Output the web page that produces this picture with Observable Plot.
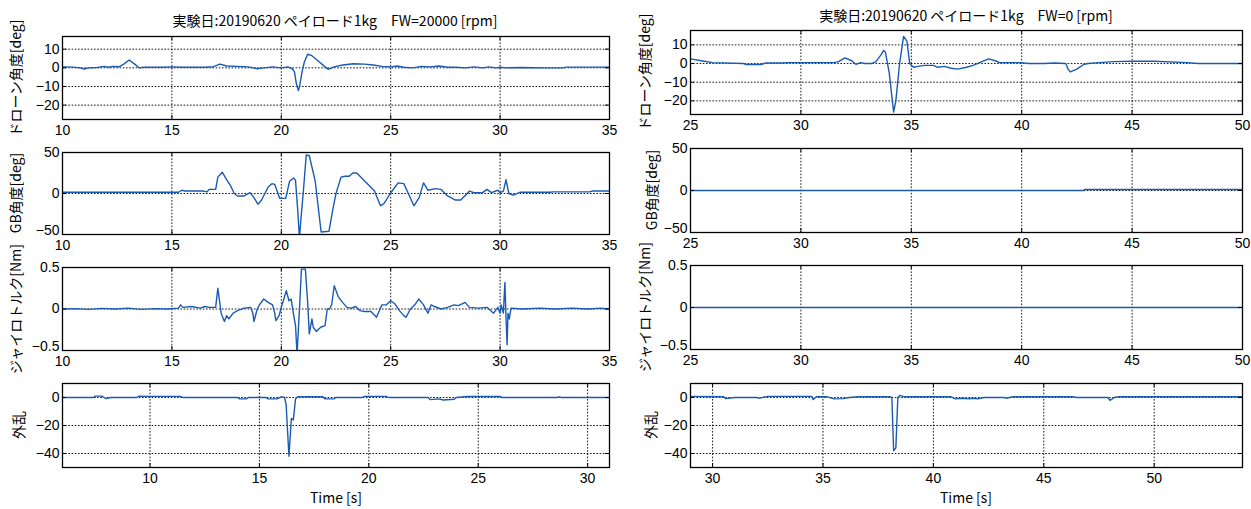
<!DOCTYPE html>
<html><head><meta charset="utf-8">
<script src="https://cdn.jsdelivr.net/npm/d3@7"></script>
<script src="https://cdn.jsdelivr.net/npm/@observablehq/plot@0.6"></script>
<style>
html,body{margin:0;padding:0;background:#fff;}
#root{position:relative;width:1251px;height:509px;overflow:hidden;background:#fff;font-family:"Noto Sans CJK JP",sans-serif;}
.pan{position:absolute;}
.txt{position:absolute;white-space:nowrap;color:#000;font-family:"Noto Sans CJK JP",sans-serif;}
.ylab{position:absolute;white-space:nowrap;color:#000;font-family:"Noto Sans CJK JP",sans-serif;font-size:14px;transform:translate(-50%,-50%) rotate(-90deg);}
</style></head>
<body><div id="root"></div>
<script>
// ---------- DATA ----------
const titleLeft = "実験日:20190620 ペイロード1kg　FW=20000 [rpm]";
const titleRight = "実験日:20190620 ペイロード1kg　FW=0 [rpm]";
const yLabels = ["ドローン角度[deg]", "GB角度[deg]", "ジャイロトルク[Nm]", "外乱"];
const xLabel = "Time [s]";

const ticksL = [10, 15, 20, 25, 30, 35];
const ticksL4 = [10, 15, 20, 25, 30];
const ticksR = [25, 30, 35, 40, 45, 50];
const ticksR4 = [30, 35, 40, 45, 50];
const yTicksDrone = [-20, -10, 0, 10];
const yTicksGB = [-50, 0, 50];
const yTicksGyro = [-0.5, 0, 0.5];
const yTicksDist = [-40, -20, 0];

// left: FW=20000
const droneLT = [10,10.5,10.8,11.0,11.2,11.6,11.9,12.1,12.3,12.6,12.8,13.05,13.3,13.5,13.7,14.5,15.0,15.5,16.0,16.5,16.9,17.2,17.5,18.0,18.5,18.9,19.2,19.6,20.0,20.3,20.5,20.6,20.68,20.78,20.85,20.95,21.05,21.2,21.4,21.7,22.0,22.15,22.4,22.8,23.3,23.8,24.2,24.6,25.0,25.3,25.6,26.0,26.4,26.8,27.2,27.6,28.0,28.4,28.8,29.2,29.5,29.8,30.0,30.3,31,32.0,32.9,33.0,35.0];
const droneLV = [0.5,0.4,0.0,-0.6,0.0,0.2,0.8,0.3,0.8,0.6,2.0,4.2,2.0,0.0,0.3,0.3,0.5,0.3,0.4,0.3,0.6,2.0,1.0,0.8,0.5,-0.5,0.0,0.5,0.0,0.5,-0.5,-2,-8,-12.2,-9,-2,3,7.3,6.5,3.5,0.5,-0.8,0.5,1.5,2.2,2.0,1.5,0.8,0.5,1.0,0.3,0.0,0.8,0.5,1.0,0.3,0.3,0.0,0.5,0.0,0.5,0.0,0.3,0.0,0.2,0.0,0.0,0.4,0.4];

const gbLT = [10,15.3,15.45,15.6,16.4,16.6,16.7,17.0,17.1,17.3,17.5,17.67,17.85,18.0,18.3,18.57,18.75,18.93,19.1,19.4,19.57,19.7,19.93,20.2,20.38,20.56,20.65,20.75,20.83,20.9,21.0,21.14,21.28,21.55,21.82,22.18,22.35,22.5,22.73,22.9,23.1,23.27,23.45,24.0,24.26,24.53,24.7,24.98,25.34,25.6,26.06,26.3,26.5,26.7,27.05,27.3,27.6,27.96,28.2,28.5,28.6,28.8,29.2,29.4,29.6,29.9,30.0,30.15,30.27,30.4,30.6,30.9,32.3,32.4,34.1,34.2,35];
const gbLV = [1.5,1.5,4,3,3,2,5,5,20,26,17,10,0,-3,-3,1,-5,-13,-8,8,12,11,-6,-6,15,19,16,-20,-55,-30,0,47,46,15,-47,-46,-20,0,20,21,21,25,25,10,3,-15,-12,0,13,12,-15,-5,13,4,6,5,-3,-8,-8,0,3,1,1,5,1,4,1,3,17,0,-2,1.5,1.5,2,2,3,3];

const gyroLT = [10,10.6,11.2,11.8,12.4,13.0,13.6,14.2,14.8,15.3,15.4,15.5,15.9,16.3,16.5,16.7,17.0,17.1,17.25,17.4,17.5,17.6,17.8,18.0,18.3,18.6,18.7,18.75,18.9,19.0,19.2,19.4,19.6,19.7,19.75,19.9,20.0,20.23,20.35,20.45,20.55,20.65,20.72,20.85,20.92,21.1,21.2,21.28,21.4,21.46,21.6,21.8,22.0,22.1,22.2,22.3,22.42,22.6,22.8,23.0,23.2,23.4,23.6,23.8,24.1,24.35,24.45,24.6,24.8,25.0,25.2,25.4,25.6,25.7,25.9,26.1,26.28,26.5,26.7,26.85,27.0,27.3,27.6,27.9,28.1,28.4,28.6,29.0,29.4,29.7,29.9,30.0,30.05,30.15,30.22,30.27,30.32,30.36,30.42,30.5,31,31.8,32.5,33.3,34.0,34.6,35];
const gyroLV = [0,0.005,-0.005,0.008,0,0.01,-0.004,0.005,0,0.01,0.05,0.02,0.03,0.01,0.03,0.02,0.02,0.25,-0.05,-0.15,-0.08,-0.12,-0.05,-0.02,0.01,0.02,-0.05,-0.15,0.0,0.05,0.12,0.08,0.05,-0.05,-0.14,-0.08,0.02,0.22,0.1,0.12,-0.05,-0.2,-0.55,0.1,0.48,0.48,0.1,-0.3,-0.12,-0.22,-0.27,-0.22,-0.2,0.0,0.0,0.05,0.28,0.15,0.08,0.02,0.01,0.03,-0.02,-0.03,-0.03,-0.1,-0.04,0.05,0.05,0.1,0.06,-0.02,-0.08,-0.1,0,0.05,0.12,0.05,-0.05,0.05,0.03,0.0,0.02,0.05,0.04,0.08,0.02,0.01,0.02,-0.05,0.02,-0.05,0.05,-0.05,0.32,-0.1,-0.43,-0.05,-0.12,0.01,0.0,0.01,0.0,0.01,0.0,0.01,0.0];

const distLT = [6,7.4,7.5,7.8,7.9,8.0,8.2,9.4,9.5,9.8,10.0,11.4,11.5,14.0,14.1,14.4,14.5,15.3,15.4,15.8,16.0,16.15,16.22,16.35,16.46,16.55,16.65,16.75,17.9,18.0,18.4,18.5,19.7,19.8,20.8,20.9,22.7,22.8,23.2,23.4,23.9,24.0,24.5,26.0,26.1,28.6,28.7,28.8,31];
const distLV = [0,0,1,1,0,-0.8,0,0,1,0.8,0.8,0.8,0,0,-1,-1,0,0,-1,-1,0.5,0,-5,-42,-15,-16,-1,0.5,0.5,-1,-1,0,0,0.8,0.8,0,0,-1.5,-1,-1.8,-1.2,0,0.7,0.7,0,0,0.5,0,0];

// right: FW=0
const droneRT = [25,25.5,26,27.4,27.5,28.2,28.4,29,29.5,31.5,31.7,32.0,32.3,32.5,32.7,32.9,33.2,33.4,33.65,33.75,33.83,34.0,34.2,34.3,34.47,34.65,34.8,34.93,35.1,35.3,35.6,36,36.2,36.5,36.8,37.1,37.5,37.8,38.2,38.5,38.8,39,40,40.3,41,41.5,42,42.1,42.2,42.5,42.8,43,43.5,44.2,45,46,47.5,48,50];
const droneRV = [2.5,1.5,0.5,0,-0.5,-0.5,0.3,0.3,0.5,0.5,1,3,1.5,-0.5,0.5,0,0,1,5,7,6,-5,-26,-20,0,14.5,12,0,-2,-1.5,-1,-1,-2,-1.5,-2.5,-3,-2,-1,1,2.5,1.5,0.5,0.5,0,0,0.3,0,-3,-4.5,-3,-0.5,0,0.5,1,1.2,1.2,0.5,0,0];

const gbRT = [25, 42.8, 42.85, 50];
const gbRV = [0, 0, 1.2, 1.2];

const gyroRT = [25, 50];
const gyroRV = [0, 0];

const distRT = [29,30.5,30.6,31.0,32,32.1,32.5,34.5,34.55,34.7,35.2,35.5,35.9,36.2,36.6,38.05,38.12,38.2,38.3,38.39,38.48,38.7,40.8,41.0,41.3,41.6,41.8,42.0,42.3,43.2,43.3,43.6,46.3,46.5,47.9,48.0,48.2,48.4,54];
const distRV = [0.8,0.5,-0.8,0,0,-0.5,0.8,0.8,-1.5,0.5,0.5,-1,-0.8,0,0.5,0.5,0,-38,-36,0,1.5,0.5,0.5,-1,-0.5,-1,-0.5,-1,0,0,-0.5,0.5,0.5,0,0,-2,0,0.5,0.5];

// ---------- LAYOUT ----------
const BLUE = "#1a5bb2";
const TICKFONT = "'Liberation Sans Narrow','Liberation Sans',sans-serif";
const root = document.getElementById("root");
const zip = (T, V) => T.map((t, i) => ({t, v: V[i]}));
const fmtY = d => (d < 0 ? "\u2212" + String(-d) : String(d));

function panel(o) {
  const mt = 8, mb = 26;
  const fh = o.bottom - o.top;
  const H = fh + mt + mb;
  const yMin = o.yDomain[0];
  const yEdge = o.yTicks.filter(d => d <= yMin);
  const yRest = o.yTicks.filter(d => d > yMin);
  const plot = Plot.plot({
    width: o.svgW, height: H,
    marginLeft: o.ml, marginRight: o.mr, marginTop: mt, marginBottom: mb,
    x: {domain: o.xDomain},
    y: {domain: o.yDomain},
    style: {background: "transparent", overflow: "visible", fontFamily: TICKFONT, fontSize: "14px", color: "#000"},
    marks: [
      Plot.ruleX(o.xGrid, {stroke: "#000", strokeWidth: 1, strokeDasharray: "1.6,1.6", strokeOpacity: 0.9}),
      Plot.ruleY(o.yGrid, {stroke: "#000", strokeWidth: 1, strokeDasharray: "1.6,1.6", strokeOpacity: 0.9}),
      Plot.line(zip(o.T, o.V), {x: "t", y: "v", stroke: BLUE, strokeWidth: 1.4, clip: true}),
      Plot.tickX(o.xTicks, {x: d => d, insetTop: fh - 4, stroke: "#000"}),
      Plot.tickX(o.xTicks, {x: d => d, insetBottom: fh - 4, stroke: "#000"}),
      Plot.tickY(o.yTicks, {y: d => d, insetRight: o.fw - 4, stroke: "#000"}),
      Plot.tickY(o.yTicks, {y: d => d, insetLeft: o.fw - 4, stroke: "#000"}),
      Plot.axisX(o.xTicks, {tickSize: 0, tickPadding: 6, label: null, tickFormat: d => String(d)}),
      Plot.axisY(yRest, {tickSize: 0, tickPadding: 3, label: null, tickFormat: fmtY}),
      Plot.axisY(yEdge, {tickSize: 0, tickPadding: 3, label: null, tickFormat: fmtY, dy: -4}),
      Plot.frame({stroke: "#000", strokeWidth: 1.3})
    ]
  });
  const div = document.createElement("div");
  div.className = "pan";
  div.style.left = o.svgX + "px";
  div.style.top = (o.top - mt) + "px";
  div.appendChild(plot);
  root.appendChild(div);

  const lab = document.createElement("div");
  lab.className = "ylab";
  lab.textContent = o.label;
  lab.style.left = o.labX + "px";
  lab.style.top = ((o.top + o.bottom) / 2) + "px";
  root.appendChild(lab);
}

const L = {svgX: 0, svgW: 620, ml: 62, mr: 11, fw: 547};
const R = {svgX: 620, svgW: 631, ml: 70, mr: 9, fw: 552};

const edgeless = a => a.slice(1, -1);

// left column
panel({...L, top: 36, bottom: 119, xDomain: [10, 35], yDomain: [-27.7, 16.8], xTicks: ticksL, xGrid: edgeless(ticksL), yTicks: yTicksDrone, yGrid: yTicksDrone, T: droneLT, V: droneLV, label: yLabels[0], labX: 15});
panel({...L, top: 152, bottom: 234, xDomain: [10, 35], yDomain: [-50, 50], xTicks: ticksL, xGrid: edgeless(ticksL), yTicks: yTicksGB, yGrid: [0], T: gbLT, V: gbLV, label: yLabels[1], labX: 15});
panel({...L, top: 267, bottom: 350, xDomain: [10, 35], yDomain: [-0.5, 0.5], xTicks: ticksL, xGrid: edgeless(ticksL), yTicks: yTicksGyro, yGrid: [0], T: gyroLT, V: gyroLV, label: yLabels[2], labX: 15});
panel({...L, top: 383, bottom: 467, xDomain: [6, 31], yDomain: [-50, 10], xTicks: ticksL4, xGrid: ticksL4, yTicks: yTicksDist, yGrid: yTicksDist, T: distLT, V: distLV, label: yLabels[3], labX: 18});

// right column
panel({...R, top: 30, bottom: 114, xDomain: [25, 50], yDomain: [-27.3, 17.7], xTicks: ticksR, xGrid: edgeless(ticksR), yTicks: yTicksDrone, yGrid: yTicksDrone, T: droneRT, V: droneRV, label: yLabels[0], labX: 644});
panel({...R, top: 148, bottom: 232, xDomain: [25, 50], yDomain: [-50, 50], xTicks: ticksR, xGrid: edgeless(ticksR), yTicks: yTicksGB, yGrid: [0], T: gbRT, V: gbRV, label: yLabels[1], labX: 651});
panel({...R, top: 265, bottom: 349, xDomain: [25, 50], yDomain: [-0.5, 0.5], xTicks: ticksR, xGrid: edgeless(ticksR), yTicks: yTicksGyro, yGrid: [0], T: gyroRT, V: gyroRV, label: yLabels[2], labX: 644});
panel({...R, top: 383, bottom: 467, xDomain: [29, 54], yDomain: [-50, 10], xTicks: ticksR4, xGrid: ticksR4, yTicks: yTicksDist, yGrid: yTicksDist, T: distRT, V: distRV, label: yLabels[3], labX: 650});

// titles and x labels
function text(s, x, y, size) {
  const d = document.createElement("div");
  d.className = "txt";
  d.textContent = s;
  d.style.fontSize = size + "px";
  d.style.left = x + "px";
  d.style.top = y + "px";
  d.style.transform = "translate(-50%,-50%)";
  root.appendChild(d);
}
text(titleLeft, 335, 20, 14);
text(titleRight, 966, 15, 14);
text(xLabel, 336, 497, 14);
text(xLabel, 966, 497, 14);
</script></body></html>
